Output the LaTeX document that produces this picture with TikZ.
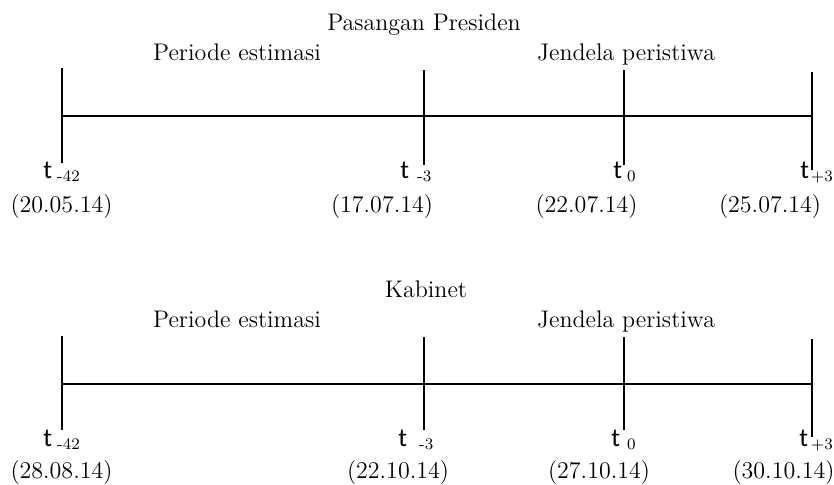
\documentclass[tikz,border=0pt]{standalone}
\usepackage{fontspec}
\usepackage{tikz}
\newfontfamily\calib{Carlito}
\newcommand{\tsym}{{\calib\fontsize{13}{13}\selectfont t}}
\newcommand{\idx}[1]{\raisebox{-1.5pt}{\fontsize{8}{8}\selectfont #1}}

\begin{document}
\begin{tikzpicture}[x=0.5pt,y=-0.5pt,
  lbl/.style={anchor=base,inner sep=0pt,font=\fontsize{12}{14}\selectfont},
  tlbl/.style={anchor=base west,inner sep=0pt},
  tick/.style={line width=1pt},
  axis/.style={line width=0.7pt}]
\useasboundingbox (0,0) rectangle (834,484);

% Pasangan Presiden
\node[lbl] (judA) at (424,30) {Pasangan Presiden};
\node[lbl] (estA) at (237,60) {Periode estimasi};
\node[lbl] (jenA) at (626,60) {Jendela peristiwa};
\coordinate (a1) at (62,116);
\coordinate (a2) at (424,116);
\coordinate (a3) at (624,116);
\coordinate (a4) at (812,116);
\draw[axis] (a1) -- (a4);
\draw[tick] (a1) ++(0,-48) -- ++(0,95);
\draw[tick] (a2) ++(0,-46) -- ++(0,95);
\draw[tick] (a3) ++(0,-46) -- ++(0,95);
\draw[tick] (a4) ++(0,-44) -- ++(0,98);
\node[tlbl] (ta1) at (43,178) {\tsym\hspace{2.5pt}\idx{-42}};
\node[tlbl] (ta2) at (400,178) {\tsym\hspace{4pt}\idx{-3}};
\node[tlbl] (ta3) at (613,178) {\tsym\hspace{2.5pt}\idx{0}};
\node[tlbl] (ta4) at (800,178) {\tsym\hspace{1pt}\idx{+3}};
\node[lbl] (da1) at (61.5,212) {(20.05.14)};
\node[lbl] (da2) at (382,212) {(17.07.14)};
\node[lbl] (da3) at (586.5,212) {(22.07.14)};
\node[lbl] (da4) at (770,212) {(25.07.14)};

% Kabinet
\node[lbl] (judB) at (426,297) {Kabinet};
\node[lbl] (estB) at (237,327) {Periode estimasi};
\node[lbl] (jenB) at (626,327) {Jendela peristiwa};
\coordinate (b1) at (62,384);
\coordinate (b2) at (424,384);
\coordinate (b3) at (624,384);
\coordinate (b4) at (812,384);
\draw[axis] (b1) -- (b4);
\draw[tick] (b1) ++(0,-48) -- ++(0,94);
\draw[tick] (b2) ++(0,-47) -- ++(0,93);
\draw[tick] (b3) ++(0,-47) -- ++(0,93);
\draw[tick] (b4) ++(0,-45) -- ++(0,98);
\node[tlbl] (tb1) at (43,446) {\tsym\hspace{2.5pt}\idx{-42}};
\node[tlbl] (tb2) at (398,446) {\tsym\hspace{6pt}\idx{-3}};
\node[tlbl] (tb3) at (611,446) {\tsym\hspace{3.5pt}\idx{0}};
\node[tlbl] (tb4) at (799,446) {\tsym\hspace{1.5pt}\idx{+3}};
\node[lbl] (db1) at (61.5,478) {(28.08.14)};
\node[lbl] (db2) at (398,478) {(22.10.14)};
\node[lbl] (db3) at (599,478) {(27.10.14)};
\node[lbl] (db4) at (783.5,478) {(30.10.14)};
\end{tikzpicture}
\end{document}
